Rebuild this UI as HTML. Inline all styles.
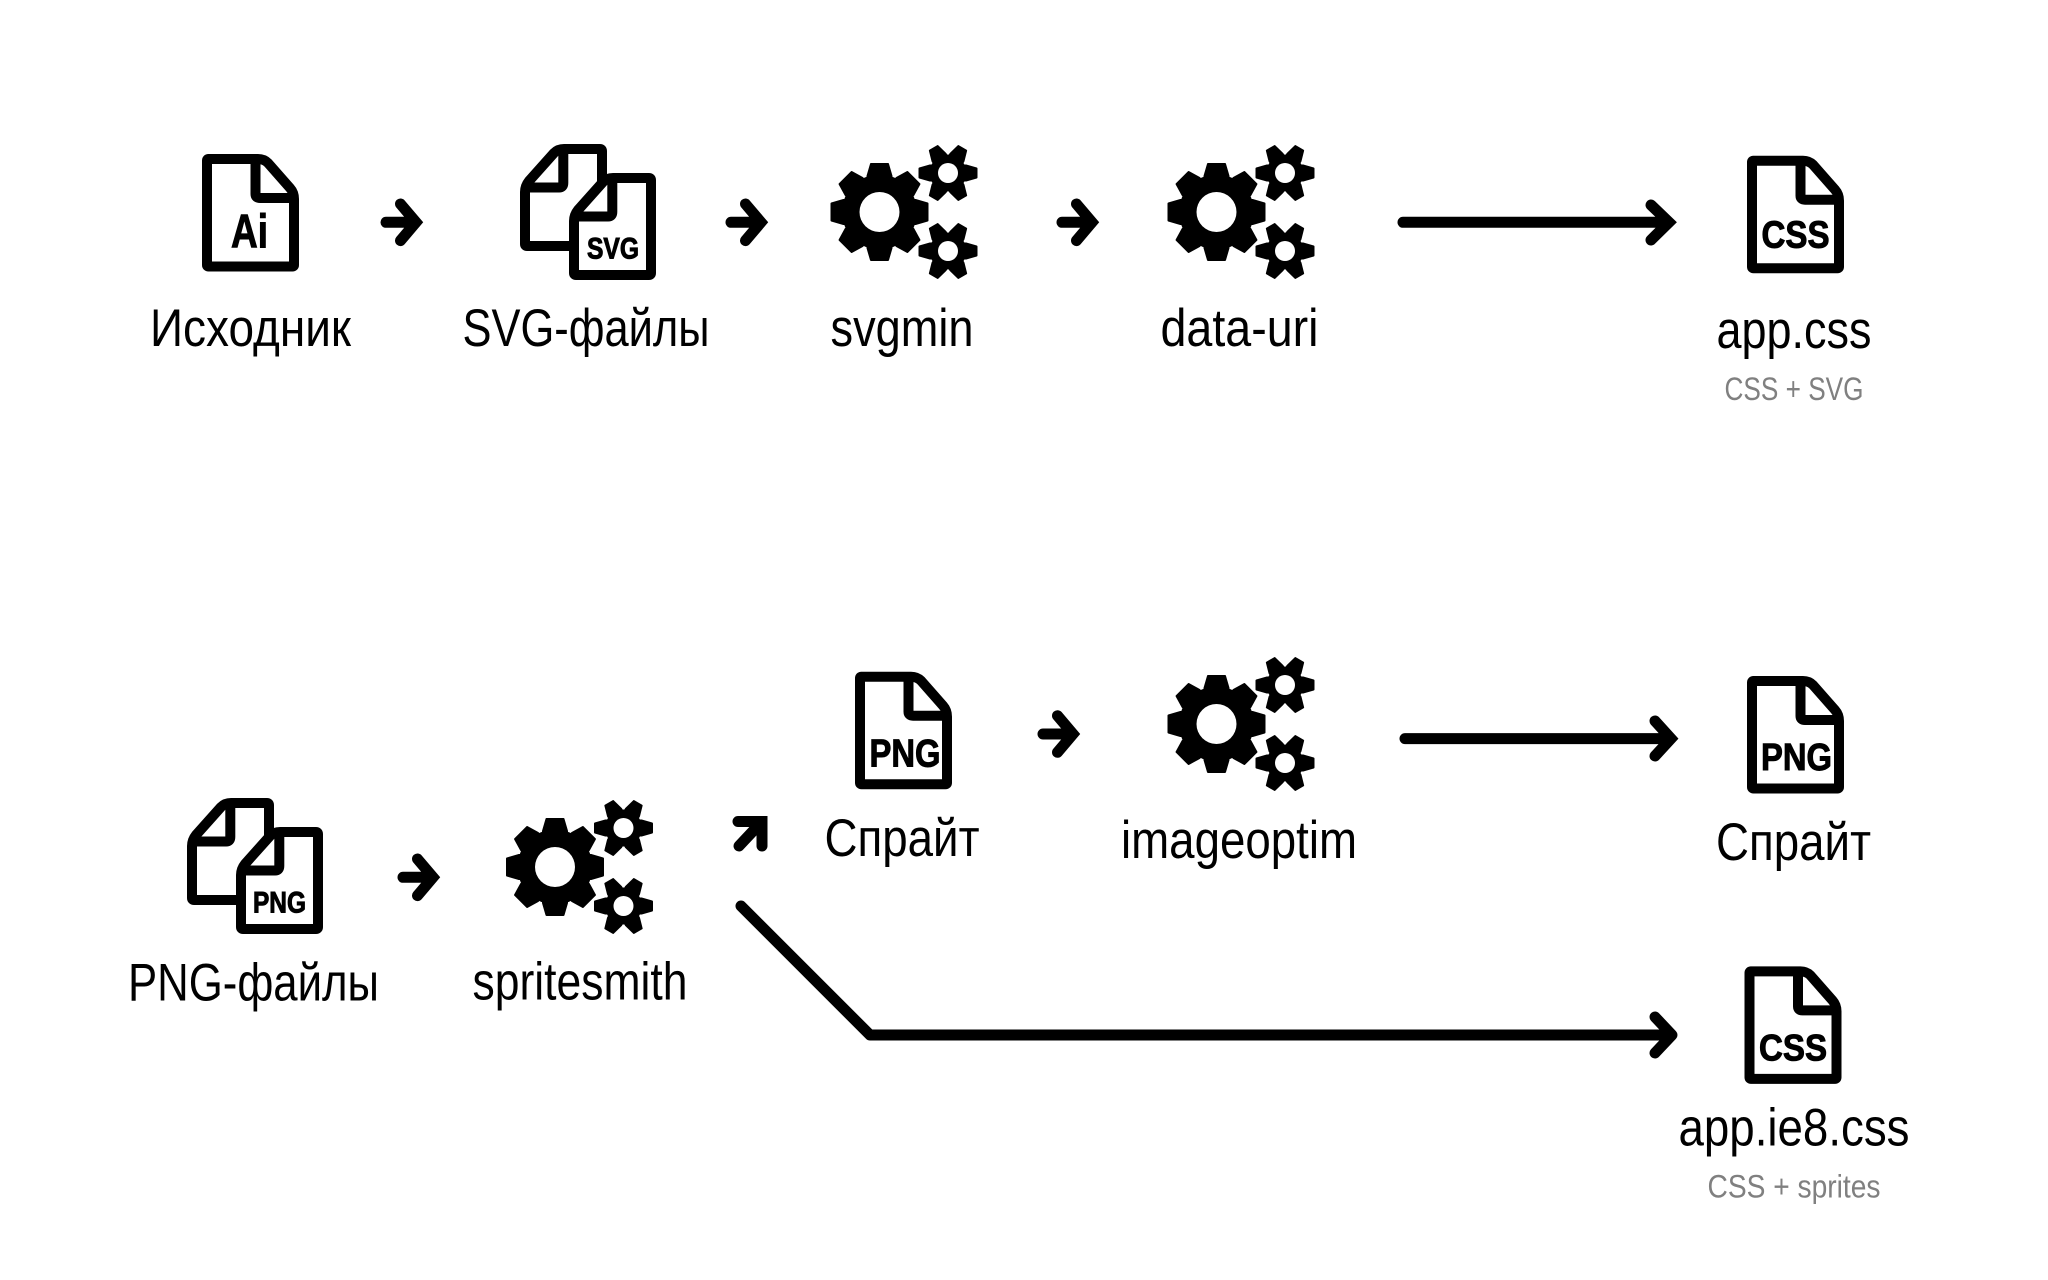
<!DOCTYPE html>
<html lang="ru">
<head>
<meta charset="utf-8">
<title>Diagram</title>
<style>
html,body{margin:0;padding:0;background:#fff}
svg{display:block}
text{font-family:"Liberation Sans",sans-serif}
.l{font-size:53px;fill:#000}
.s{font-size:32px;fill:#808080}
.b{font-weight:bold;fill:#000;stroke:#000;stroke-width:1px}
.d{fill:#fff;stroke:#000;stroke-width:10;stroke-linejoin:round}
.f{fill:none;stroke:#000;stroke-width:10;stroke-linejoin:round}
.d2{fill:#fff;stroke:#000;stroke-width:10;stroke-linejoin:round}
.f2{fill:none;stroke:#000;stroke-width:10;stroke-linejoin:round}
.a{fill:none;stroke:#000;stroke-width:11;stroke-linecap:round;stroke-linejoin:miter;stroke-miterlimit:6}
</style>
</head>
<body>
<svg width="2048" height="1280" viewBox="0 0 2048 1280" xmlns="http://www.w3.org/2000/svg">
<defs>
<g id="doc">
<path class="d" d="M6 5H56Q62 5 66 9L88 34Q92 38.500 92 45V111Q92 112.500 90.500 112.500H6.500Q5 112.500 5 111V6.500Q5 5 6.500 5Z"/>
<path class="f" d="M53.500 5V40Q53.500 44 58 44H92"/>
</g>
<g id="sheet">
<path class="d2" d="M80 5H44Q38 5 34 9L9 37Q5 42 5 48V100Q5 102 7 102H80Q82 102 82 100V7Q82 5 80 5Z"/>
<path class="f2" d="M43.300 5V39Q43.300 43.500 39 43.500H5"/>
</g>
<g id="docs">
<use href="#sheet"/>
<use href="#sheet" x="49" y="29"/>
</g>
<g id="bigTooth"><path d="M-12 -30V-36L-8.500 -48H8.500L12 -36V-30Z" stroke="#000" stroke-width="2" stroke-linejoin="round"/></g>
<g id="smallTooth"><path d="M14 -7.500H18L28.500 -4.500V4.500L18 7.500H14Z" stroke="#000" stroke-width="2" stroke-linejoin="round"/></g>
<g id="smallGear">
<circle r="18.500"/>
<use href="#smallTooth"/>
<use href="#smallTooth" transform="rotate(60)"/>
<use href="#smallTooth" transform="rotate(120)"/>
<use href="#smallTooth" transform="rotate(180)"/>
<use href="#smallTooth" transform="rotate(240)"/>
<use href="#smallTooth" transform="rotate(300)"/>
<circle r="10" fill="#fff"/>
</g>
<g id="gears">
<circle r="37.500"/>
<use href="#bigTooth"/>
<use href="#bigTooth" transform="rotate(45)"/>
<use href="#bigTooth" transform="rotate(90)"/>
<use href="#bigTooth" transform="rotate(135)"/>
<use href="#bigTooth" transform="rotate(180)"/>
<use href="#bigTooth" transform="rotate(225)"/>
<use href="#bigTooth" transform="rotate(270)"/>
<use href="#bigTooth" transform="rotate(315)"/>
<circle r="20" fill="#fff"/>
<use href="#smallGear" x="68.500" y="-39"/>
<use href="#smallGear" x="68.500" y="39"/>
</g>
<g id="arrow">
<path class="a" d="M386 222.300H416M400.500 204L416 222.300L400.500 240.600"/>
</g>
</defs>

<rect width="2048" height="1280" fill="#fff"/>

<!-- row 1 -->
<use href="#doc" x="202" y="154"/>
<text class="b" x="231" y="247.700" font-size="47" textLength="37" lengthAdjust="spacingAndGlyphs">Ai</text>
<use href="#docs" x="520" y="144"/>
<text class="b" x="587" y="258.700" font-size="30" textLength="52" lengthAdjust="spacingAndGlyphs">SVG</text>
<use href="#gears" x="879.500" y="212"/>
<use href="#gears" x="1216.500" y="212"/>
<use href="#doc" x="1747" y="155.700"/>
<text class="b" x="1761.500" y="247.300" font-size="38" textLength="68" lengthAdjust="spacingAndGlyphs">CSS</text>

<use href="#arrow"/>
<use href="#arrow" x="345"/>
<use href="#arrow" x="676"/>
<path class="a" d="M1403 222.300H1669M1651 205L1669 222.300L1651 240"/>

<text class="l" x="150" y="346" textLength="201" lengthAdjust="spacingAndGlyphs">Исходник</text>
<text class="l" x="462.500" y="346" textLength="247" lengthAdjust="spacingAndGlyphs">SVG-файлы</text>
<text class="l" x="830.500" y="346" textLength="143" lengthAdjust="spacingAndGlyphs">svgmin</text>
<text class="l" x="1160.500" y="346" textLength="158" lengthAdjust="spacingAndGlyphs">data-uri</text>
<text class="l" x="1716.500" y="348" textLength="155" lengthAdjust="spacingAndGlyphs">app.css</text>
<text class="s" x="1724.500" y="400" textLength="139" lengthAdjust="spacingAndGlyphs">CSS + SVG</text>

<!-- row 2 upper -->
<use href="#doc" x="855" y="671.700"/>
<text class="b" x="869.500" y="766.700" font-size="39" textLength="71" lengthAdjust="spacingAndGlyphs">PNG</text>
<use href="#arrow" x="657" y="511.700"/>
<use href="#gears" x="1216.500" y="724"/>
<path class="a" d="M1405 738.600H1671M1655 721L1671 738.600L1655 756"/>
<use href="#doc" x="1747" y="676"/>
<text class="b" x="1761" y="770.200" font-size="38" textLength="71" lengthAdjust="spacingAndGlyphs">PNG</text>

<text class="l" x="824.500" y="856" textLength="155" lengthAdjust="spacingAndGlyphs">Спрайт</text>
<text class="l" x="1121" y="858" textLength="236" lengthAdjust="spacingAndGlyphs">imageoptim</text>
<text class="l" x="1716" y="860" textLength="155" lengthAdjust="spacingAndGlyphs">Спрайт</text>

<!-- row 2 lower -->
<use href="#docs" x="187" y="798"/>
<text class="b" x="253" y="912.300" font-size="30" textLength="53" lengthAdjust="spacingAndGlyphs">PNG</text>
<use href="#arrow" x="17" y="655"/>
<use href="#gears" x="555" y="867"/>
<path class="a" d="M738 821.500H762V846M762 821.500L739 846"/>
<path class="a" d="M741 906L870 1035H1670M1655 1017L1672 1035L1655 1053" style="stroke-linejoin:round"/>
<use href="#doc" x="1744.500" y="966.400"/>
<text class="b" x="1759" y="1060.700" font-size="37" textLength="68" lengthAdjust="spacingAndGlyphs">CSS</text>

<text class="l" x="128" y="1000.700" textLength="251" lengthAdjust="spacingAndGlyphs">PNG-файлы</text>
<text class="l" x="472.500" y="999.500" textLength="215" lengthAdjust="spacingAndGlyphs">spritesmith</text>
<text class="l" x="1678.500" y="1145.700" textLength="231" lengthAdjust="spacingAndGlyphs">app.ie8.css</text>
<text class="s" x="1707.500" y="1197.500" textLength="173" lengthAdjust="spacingAndGlyphs">CSS + sprites</text>
</svg>
</body>
</html>
